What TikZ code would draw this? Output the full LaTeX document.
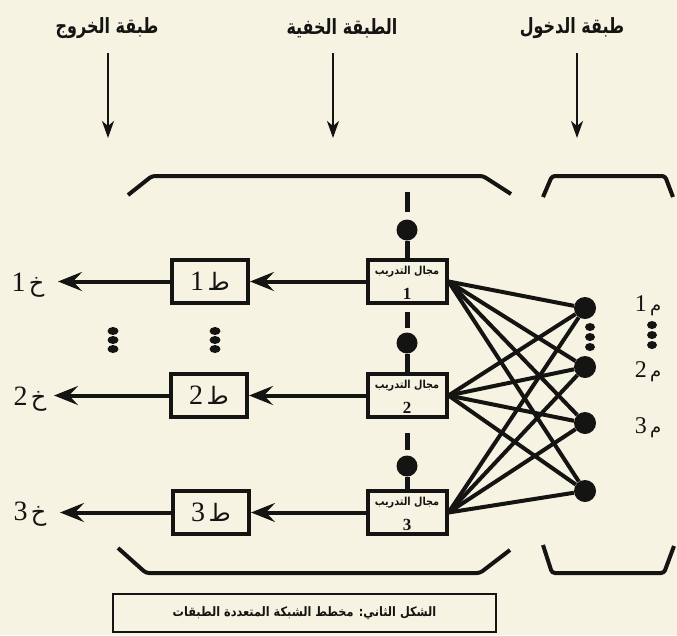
\documentclass[tikz,border=0pt]{standalone}
\usepackage{fontspec}
\usepackage{graphicx}
\usetikzlibrary{arrows.meta}
\TeXXeTstate=1
\newfontfamily\arabicfont[Script=Arabic]{DejaVu Sans}
\newfontfamily\digitfont{Liberation Serif}
\definecolor{bg}{RGB}{246,243,226}
\definecolor{ink}{RGB}{20,20,18}
\begin{document}
\begin{tikzpicture}[x=1pt,y=-1pt,
  toplabel/.style={font=\arabicfont\bfseries\fontsize{21}{24}\selectfont, text=ink, inner sep=0pt},
  downarrow/.style={draw=ink, line width=2.6pt, -{Stealth[length=17pt,width=12pt,inset=5pt]}},
  harrow/.style={draw=ink, line width=4pt, -{Stealth[length=24pt,width=19pt,inset=9pt]}},
  bracket/.style={draw=ink, line width=4pt, rounded corners=3pt},
  obox/.style={draw=ink, line width=4pt, fill=bg, minimum width=76pt, minimum height=43pt, inner sep=0pt},
  hbox/.style={draw=ink, line width=4pt, fill=bg, minimum width=79pt, minimum height=43pt, inner sep=0pt},
  conn/.style={draw=ink, line width=5pt},
  mesh/.style={draw=ink, line width=4pt},
  bigdot/.style={circle, fill=ink, draw=none, minimum size=21pt, inner sep=0pt},
  indot/.style={circle, fill=ink, draw=none, minimum size=22pt, inner sep=0pt},
  bigtxt/.style={text=ink, inner sep=0pt},
  htxt/.style={font=\arabicfont\bfseries\fontsize{11}{12}\selectfont, text=ink, inner sep=0pt},
  hnum/.style={font=\digitfont\bfseries\fontsize{17}{17}\selectfont, text=ink, inner sep=0pt},
]
\fill[bg] (0,0) rectangle (677,635);
\useasboundingbox (0,0) rectangle (677,635);

% top labels and arrows
\node[toplabel] (tout) at (107,28) {\scalebox{0.76}[1]{\beginR طبقة الخروج\endR}};
\node[toplabel] (thid) at (342,28) {\scalebox{0.76}[1]{\beginR الطبقة الخفية\endR}};
\node[toplabel] (tin)  at (572,28) {\scalebox{0.76}[1]{\beginR طبقة الدخول\endR}};
\coordinate (aout) at (108,138);
\coordinate (ahid) at (333,138);
\coordinate (ain)  at (577,138);
\draw[downarrow] (108,53) -- (aout);
\draw[downarrow] (333,53) -- (ahid);
\draw[downarrow] (577,53) -- (ain);

% brackets
\draw[bracket] (128,195) -- (152,176) -- (483,176) -- (511,194);
\draw[bracket] (543,197) -- (552,176) -- (665,176) -- (673,197);
\draw[bracket] (118,548) -- (146,573) -- (480,573) -- (510,550);
\draw[bracket] (543,545) -- (552,573) -- (664,573) -- (674,546);

% hidden units
\node[hbox] (h1) at (407,281.5) {};
\node[hbox] (h2) at (407,395.5) {};
\node[hbox] (h3) at (407,512.5) {};
\foreach \i/\y in {1/281.5,2/395.5,3/512.5}{
  \node[htxt] (ht\i) at (407,\y-10) {\scalebox{0.88}[1]{\beginR مجال التدريب\endR}};
  \node[hnum] (hn\i) at (407,\y+12) {\i};
}

% dashes and dots above hidden units
\node[bigdot] (d1) at (407,230) {};
\node[bigdot] (d2) at (407,343) {};
\node[bigdot] (d3) at (407,466) {};
\draw[conn] (407,192) -- (407,212);
\draw[conn] (407,312) -- (407,328);
\draw[conn] (407,433) -- (407,450);
\draw[conn] (d1) -- (h1);
\draw[conn] (d2) -- (h2);
\draw[conn] (d3) -- (h3);

% output units
\node[obox] (o1) at (210,281.5) {};
\node[obox] (o2) at (209,395.5) {};
\node[obox] (o3) at (211,512.5) {};
\foreach \i in {1,2,3}{
  \node[bigtxt] at (o\i) {\beginR{\arabicfont\fontsize{24}{26}\selectfont ط} {\digitfont\fontsize{28}{28}\selectfont \i}\endR};
}
\draw[harrow] (h1.west) -- (o1.east);
\draw[harrow] (h2.west) -- (o2.east);
\draw[harrow] (h3.west) -- (o3.east);

\coordinate (y1) at (58,281.5);
\coordinate (y2) at (54,395.5);
\coordinate (y3) at (60,512.5);
\draw[harrow] (o1.west) -- (y1);
\draw[harrow] (o2.west) -- (y2);
\draw[harrow] (o3.west) -- (y3);
\node[bigtxt] (l1) at (28,285) {\beginR{\arabicfont\fontsize{24}{26}\selectfont خ} {\digitfont\fontsize{28}{28}\selectfont 1}\endR};
\node[bigtxt] (l2) at (30,399) {\beginR{\arabicfont\fontsize{24}{26}\selectfont خ} {\digitfont\fontsize{28}{28}\selectfont 2}\endR};
\node[bigtxt] (l3) at (30,514) {\beginR{\arabicfont\fontsize{24}{26}\selectfont خ} {\digitfont\fontsize{28}{28}\selectfont 3}\endR};

% vertical ellipsis dots (left)
\foreach \x in {113,215}{
  \foreach \y in {331,340,349}{
    \fill[ink] (\x,\y) ellipse (5.5 and 4);
  }
}

% input units
\node[indot] (i1) at (585,308) {};
\node[indot] (i2) at (585,367) {};
\node[indot] (i3) at (585,423) {};
\node[indot] (i4) at (585,491) {};
\foreach \y in {327,337,347}{ \fill[ink] (590,\y) ellipse (5 and 4); }
\foreach \y in {325,335,345}{ \fill[ink] (652,\y) ellipse (5 and 4); }

\foreach \h in {1,2,3}{
  \foreach \n in {1,2,3,4}{
    \draw[mesh] (h\h.east) -- (i\n);
  }
}

% input labels
\node[bigtxt] (m1) at (648,306) {\beginR{\arabicfont\fontsize{18}{20}\selectfont م} {\digitfont\fontsize{24}{24}\selectfont 1}\endR};
\node[bigtxt] (m2) at (648,372) {\beginR{\arabicfont\fontsize{18}{20}\selectfont م} {\digitfont\fontsize{24}{24}\selectfont 2}\endR};
\node[bigtxt] (m3) at (648,428) {\beginR{\arabicfont\fontsize{18}{20}\selectfont م} {\digitfont\fontsize{24}{24}\selectfont 3}\endR};

% caption
\node[draw=ink, line width=2pt, minimum width=383pt, minimum height=38pt, inner sep=0pt,
      font=\arabicfont\bfseries\fontsize{13}{15}\selectfont, text=ink] (cap) at (304.5,613)
      {\scalebox{0.87}[1]{\beginR الشكل الثاني: مخطط الشبكة المتعددة الطبقات\endR}};
\end{tikzpicture}
\end{document}
